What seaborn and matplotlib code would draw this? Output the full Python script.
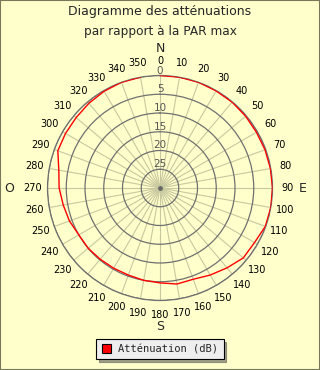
import numpy as np
import pandas as pd
import seaborn as sns
import matplotlib
matplotlib.use("Agg")
import matplotlib.pyplot as plt
from matplotlib.patches import Patch, Rectangle

# ---- data ----
angles_deg = [0, 10, 20, 30, 40, 50, 60, 70, 80, 90, 100, 110,
              120, 130, 140, 150, 160, 170, 180, 190, 200, 210, 220, 230,
              240, 250, 260, 270, 280, 290, 300, 310, 320, 330, 340, 350]
attenuation = [0.0, 0.0, 0.0, 0.1, 0.1, 0.2, 0.3, 0.2, 0.1, 0.0, 0.0, 0.1,
               0.9, 1.0, 2.2, 3.2, 4.1, 4.0, 4.7, 5.0, 5.3, 5.3, 5.2, 5.0,
               5.0, 4.3, 3.8, 3.1, 2.6, 1.0, 0.9, 0.8, 0.5, 0.2, 0.0, 0.0]
angle_labels = [str(a) for a in angles_deg]
r_ticks = [0, 5, 10, 15, 20, 25]
title_lines = ["Diagramme des atténuations", "par rapport à la PAR max"]
legend_label = "Atténuation (dB)"
cardinals = {"N": 0, "E": 90, "S": 180, "O": 270}

BG = "#FFFFCC"

sns.set_style("white")
plt.rcParams['font.family'] = ['DejaVu Sans']

fig = plt.figure(figsize=(3.2, 3.7), dpi=100, facecolor=BG)
fig.patches.append(Rectangle((0, 0), 1, 1, transform=fig.transFigure,
                             fill=False, edgecolor="#77775A", linewidth=1.5))

cx, cy, R = 160, 188, 112.5
W, H = 320, 370
ax = fig.add_axes([(cx - R) / W, (H - cy - R) / H, 2 * R / W, 2 * R / H],
                  projection="polar", facecolor=BG)
ax.set_theta_zero_location("N")
ax.set_theta_direction(-1)

df = pd.DataFrame({"theta": np.deg2rad(angles_deg + [angles_deg[0]]),
                   "att": attenuation + [attenuation[0]]})
sns.lineplot(data=df, x="theta", y="att", sort=False, ax=ax,
             color="#FF0000", linewidth=1.0, zorder=5)
ax.set_ylim(30, 0)
ax.set_xlabel("")
ax.set_ylabel("")

ax.set_thetagrids(angles_deg, angle_labels, fontsize=7, color="black")
ax.tick_params(axis="x", pad=0)
ax.set_yticks(r_ticks)
ax.set_yticklabels([])
ax.xaxis.grid(True, color="#C8C8A0", linewidth=0.8)
ax.yaxis.grid(True, color="#707070", linewidth=0.9)
ax.spines["polar"].set_color("#707070")
ax.spines["polar"].set_linewidth(0.9)

for r in r_ticks:
    ax.text(0, r, str(r), ha="center", va="bottom", fontsize=7.5,
            color="#555555", zorder=6)
ax.scatter([0], [30], s=6, color="#666666", zorder=6)

for lab, a in cardinals.items():
    off = {"N": 140, "S": 139, "O": 151, "E": 143}[lab]
    t = np.deg2rad(a)
    ax.text(0.5 + off * np.sin(t) / (2 * R), 0.5 + off * np.cos(t) / (2 * R),
            lab, transform=ax.transAxes, ha="center", va="center", fontsize=9)

fig.text(0.5, 1 - 12 / H, title_lines[0], ha="center", va="center", fontsize=9)
fig.text(0.5, 1 - 31 / H, title_lines[1], ha="center", va="center", fontsize=8.7)

handle = Patch(facecolor="#FF0000", edgecolor="black", linewidth=0.8)
leg = fig.legend([handle], [legend_label], loc="center",
                 bbox_to_anchor=(0.5, 1 - 349 / H), frameon=True,
                 fancybox=False, shadow=True, edgecolor="black",
                 prop={"family": "DejaVu Sans Mono", "size": 7.5},
                 handlelength=0.9, handleheight=0.9, borderpad=0.5,
                 handletextpad=0.7)
leg.get_frame().set_facecolor("#EEEEEE")
leg.get_frame().set_linewidth(0.8)

fig.savefig("out.png", dpi=100, facecolor=BG)
